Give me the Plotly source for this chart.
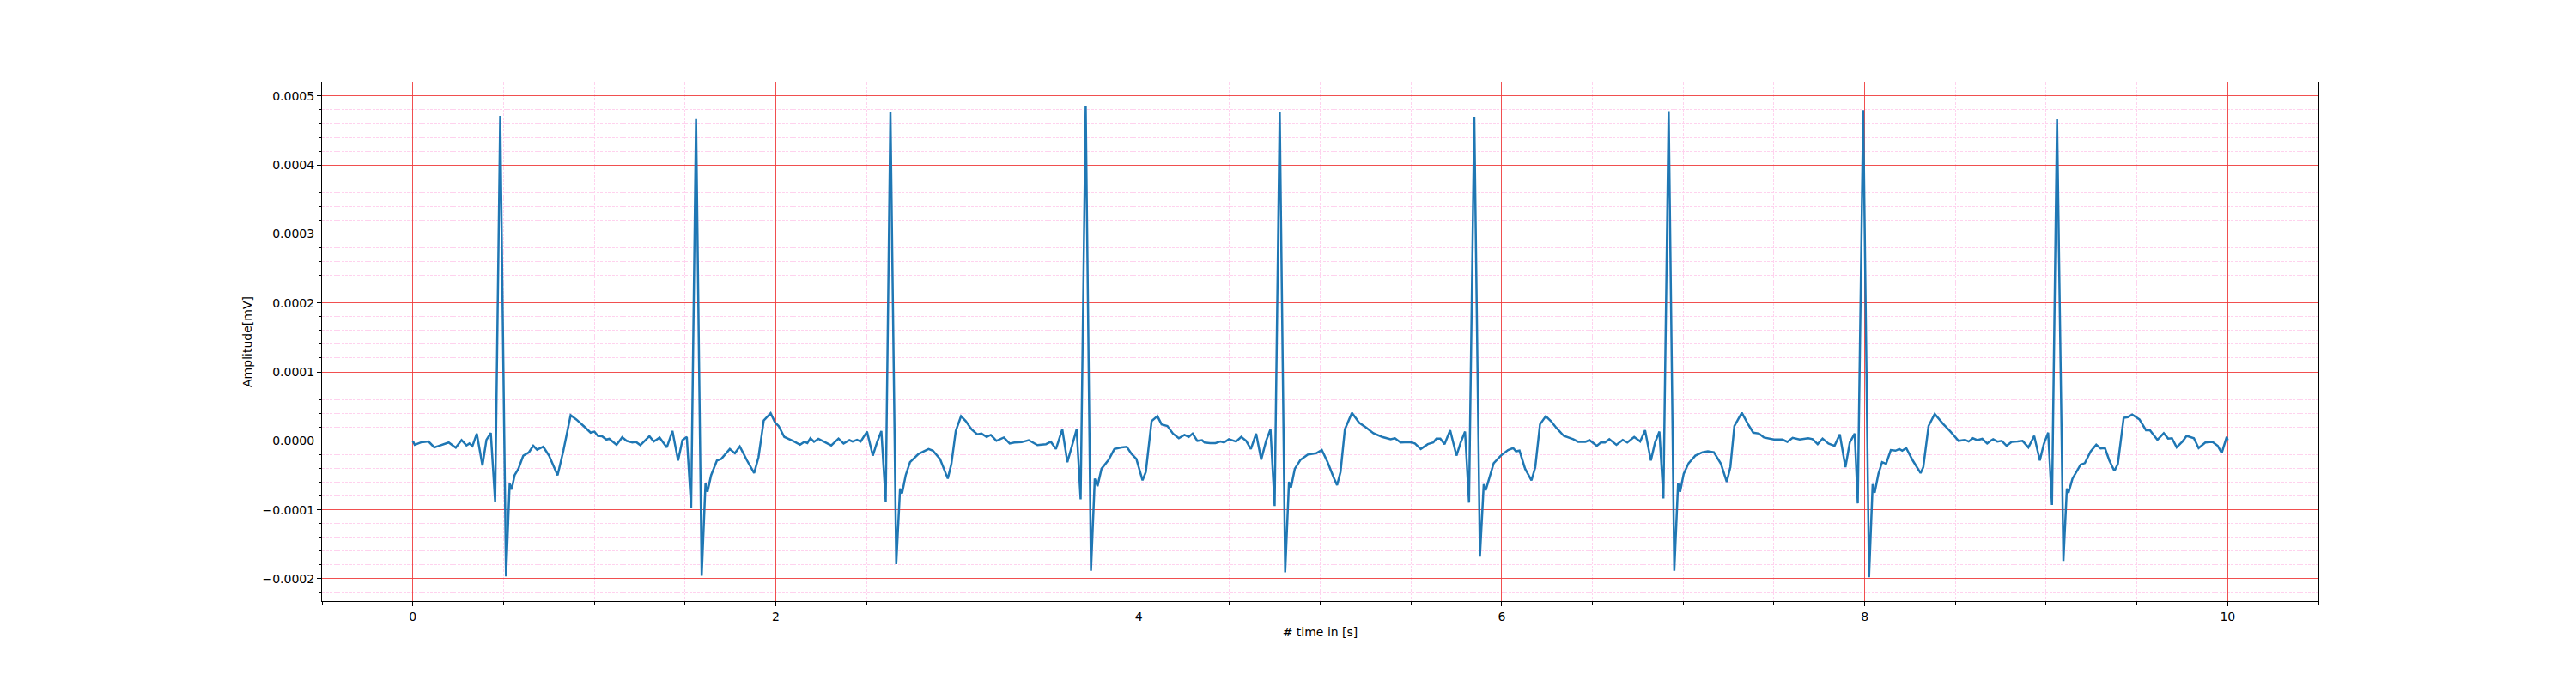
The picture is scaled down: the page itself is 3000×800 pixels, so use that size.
import plotly.graph_objects as go

# ECG trace, time in seconds, amplitude in units of 1e-6
AMP_SCALE = 1e-6

# beats 1-2 (0 .. 2.2 s)
time_a = [0.000, 0.011, 0.048, 0.087, 0.119, 0.150, 0.198, 0.237, 0.269, 0.296, 0.312, 0.329,
          0.353, 0.384, 0.406, 0.430, 0.454, 0.482, 0.514, 0.534, 0.545, 0.561, 0.582, 0.609,
          0.640, 0.664, 0.685, 0.719, 0.751, 0.798, 0.830, 0.870, 0.901, 0.941, 0.980, 1.001,
          1.020, 1.043, 1.067, 1.083, 1.123, 1.154, 1.178, 1.210, 1.229, 1.254, 1.304, 1.328,
          1.360, 1.400, 1.431, 1.462, 1.486, 1.510, 1.534, 1.561, 1.592, 1.613, 1.624, 1.644,
          1.676, 1.700, 1.747, 1.775, 1.802, 1.842, 1.881, 1.905, 1.934, 1.972, 1.997, 2.016,
          2.047, 2.095, 2.134, 2.158, 2.174]
amp_a = [0.0, -5.7, -2.0, -1.0, -9.5, -6.7, -2.4, -10.0, 1.0, -6.7, -3.8, -7.6,
         10.5, -35.8, 1.4, 11.4, -88.3, 471.0, -196.6, -62.0, -70.6, -50.0, -40.6, -21.5,
         -16.7, -7.2, -12.9, -8.6, -21.5, -50.0, -14.3, 37.2, 31.0, 21.5, 11.9, 13.4,
         7.2, 6.7, 1.9, 2.9, -5.7, 5.2, 0.0, -2.4, -1.4, -6.2, 6.7, -1.0,
         4.8, -9.5, 14.3, -28.6, 1.0, 5.7, -96.9, 467.6, -195.6, -62.0, -74.0, -50.0,
         -28.6, -26.2, -11.9, -18.1, -8.1, -28.6, -46.8, -23.9, 29.6, 40.1, 26.2, 21.5,
         5.7, 0.0, -5.7, -1.4, -3.3]

# beats 3-4 (2.2 .. 4.35 s)
time_b = [2.191, 2.211, 2.235, 2.267, 2.306, 2.346, 2.374, 2.406, 2.424, 2.448, 2.468, 2.503,
          2.535, 2.558, 2.582, 2.606, 2.632, 2.664, 2.685, 2.696, 2.716, 2.740, 2.787, 2.842,
          2.866, 2.905, 2.948, 2.968, 2.992, 3.021, 3.047, 3.079, 3.110, 3.134, 3.162, 3.185,
          3.216, 3.257, 3.289, 3.315, 3.355, 3.394, 3.442, 3.489, 3.516, 3.544, 3.579, 3.607,
          3.631, 3.658, 3.680, 3.708, 3.737, 3.758, 3.773, 3.795, 3.834, 3.866, 3.905, 3.934,
          3.961, 3.987, 4.021, 4.039, 4.071, 4.103, 4.126, 4.158, 4.189, 4.221, 4.252, 4.276,
          4.297, 4.323, 4.349]
amp_b = [3.8, -1.4, 2.9, -1.0, -6.7, 3.3, -3.8, 1.0, -1.0, 1.4, -1.0, 13.4,
         -21.5, -2.4, 14.3, -88.3, 477.1, -178.9, -69.2, -76.3, -50.0, -31.0, -19.1, -11.9,
         -14.3, -26.2, -54.9, -33.4, 14.3, 35.8, 28.6, 16.7, 9.5, 10.5, 5.7, 8.6,
         0.0, 4.8, -3.8, -2.4, -1.9, 1.0, -6.2, -4.8, -1.4, -11.9, 16.7, -31.0,
         -7.2, 16.7, -84.9, 485.7, -188.5, -54.9, -65.8, -40.6, -27.7, -11.9, -9.5, -8.6,
         -19.1, -26.2, -57.3, -45.3, 28.6, 35.8, 23.9, 21.5, 10.5, 3.8, 8.6, 5.7,
         10.5, 0.0, 1.0]

# beats 5-6 (4.35 .. 6.55 s)
time_c = [4.363, 4.394, 4.423, 4.450, 4.470, 4.497, 4.536, 4.565, 4.592, 4.618, 4.647, 4.675,
          4.702, 4.726, 4.749, 4.777, 4.807, 4.828, 4.839, 4.860, 4.891, 4.931, 4.978, 5.009,
          5.041, 5.073, 5.093, 5.112, 5.136, 5.175, 5.215, 5.254, 5.293, 5.341, 5.388, 5.412,
          5.443, 5.491, 5.522, 5.554, 5.593, 5.623, 5.640, 5.662, 5.685, 5.716, 5.751, 5.774,
          5.798, 5.820, 5.849, 5.880, 5.901, 5.912, 5.932, 5.956, 5.995, 6.035, 6.063, 6.079,
          6.098, 6.129, 6.164, 6.185, 6.211, 6.243, 6.271, 6.300, 6.342, 6.394, 6.421, 6.461,
          6.484, 6.524]
amp_c = [-2.4, -3.3, -3.3, -1.0, -2.4, 2.4, -1.0, 5.7, 0.0, -11.9, 10.5, -27.2,
         0.0, 16.7, -94.5, 476.2, -190.8, -59.6, -67.7, -40.6, -27.7, -20.0, -18.1, -13.4,
         -31.0, -52.5, -64.4, -45.3, 16.7, 40.6, 26.2, 19.1, 11.0, 5.7, 2.4, 3.8,
         -2.4, -1.9, -3.8, -11.9, -4.8, -2.4, 3.3, 3.3, -4.8, 15.3, -21.5, -2.4,
         13.4, -89.7, 470.0, -167.9, -63.0, -71.6, -52.5, -32.4, -21.5, -13.4, -10.5, -15.3,
         -14.3, -40.6, -57.3, -38.2, 23.9, 35.8, 28.6, 19.1, 7.2, 2.4, -1.4, -1.4,
         1.0, -7.2]

# beats 7-8 (6.55 .. 8.7 s)
time_d = [6.546, 6.569, 6.593, 6.632, 6.667, 6.692, 6.730, 6.763, 6.790, 6.822, 6.845, 6.869,
          6.891, 6.920, 6.951, 6.972, 6.983, 7.003, 7.030, 7.067, 7.106, 7.136, 7.169, 7.208,
          7.240, 7.260, 7.282, 7.323, 7.358, 7.386, 7.418, 7.445, 7.500, 7.547, 7.574, 7.603,
          7.642, 7.689, 7.713, 7.741, 7.768, 7.800, 7.834, 7.863, 7.894, 7.918, 7.945, 7.962,
          7.992, 8.024, 8.044, 8.055, 8.076, 8.096, 8.118, 8.144, 8.170, 8.191, 8.207, 8.229,
          8.265, 8.308, 8.323, 8.352, 8.386, 8.431, 8.470, 8.517, 8.554, 8.573, 8.596, 8.620,
          8.648, 8.675, 8.699]
amp_d = [-2.4, -2.4, 2.4, -5.7, 1.4, -2.4, 5.7, -1.0, 15.3, -28.6, -2.4, 13.4,
         -83.5, 478.0, -188.5, -61.1, -74.0, -47.7, -32.4, -21.5, -16.7, -15.3, -16.7, -33.4,
         -59.6, -38.2, 21.5, 40.6, 23.9, 11.9, 10.5, 4.8, 1.9, 1.9, -1.4, 4.3,
         1.9, 3.8, 2.4, -4.8, 3.3, -3.8, -7.2, 9.5, -38.2, -2.4, 10.5, -90.7,
         479.5, -198.0, -63.0, -75.4, -47.7, -31.0, -33.4, -13.4, -14.3, -11.9, -14.3, -10.5,
         -28.6, -46.8, -38.2, 21.5, 39.1, 24.8, 14.3, 0.0, 1.4, -1.0, 3.8, 1.0,
         2.9, -3.8, 1.0]

# beat 9 (8.7 .. 10 s)
time_e = [8.708, 8.731, 8.755, 8.782, 8.810, 8.842, 8.870, 8.902, 8.934, 8.965, 8.987, 9.011,
          9.032, 9.060, 9.095, 9.114, 9.123, 9.145, 9.190, 9.213, 9.245, 9.276, 9.300, 9.324,
          9.348, 9.376, 9.395, 9.427, 9.450, 9.474, 9.514, 9.550, 9.572, 9.613, 9.648, 9.672,
          9.693, 9.719, 9.751, 9.774, 9.814, 9.840, 9.877, 9.916, 9.945, 9.967, 9.995, 10.000]
amp_e = [2.4, -1.0, 0.0, -7.2, -1.4, -1.0, 0.0, -9.5, 7.2, -28.6, -4.8, 11.9,
         -93.0, 466.6, -174.1, -69.2, -75.4, -54.9, -34.4, -32.4, -15.3, -5.7, -11.0, -10.5,
         -28.6, -43.9, -33.4, 33.4, 34.4, 38.2, 31.0, 15.3, 15.3, 1.4, 11.0, 3.3,
         3.8, -9.5, -1.0, 7.2, 3.8, -10.5, -2.4, -1.4, -7.2, -17.7, 5.7, 1.0]

time_s = time_a + time_b + time_c + time_d + time_e
amplitude = [v * AMP_SCALE for v in amp_a + amp_b + amp_c + amp_d + amp_e]

FONT = "DejaVu Sans"
MAJOR_GRID = "rgba(240,60,60,0.9)"
MINOR_GRID = "#ffd2ee"

fig = go.Figure()
fig.add_trace(go.Scatter(x=time_s, y=amplitude, mode="lines",
                         line=dict(color="#1f77b4", width=2.5), showlegend=False))

axis_common = dict(
    showline=True, linecolor="black", linewidth=1, mirror=True,
    ticks="outside", ticklen=5, tickcolor="black", tickwidth=1,
    showgrid=True, gridcolor=MAJOR_GRID, gridwidth=1,
    zeroline=False,
    tickfont=dict(family=FONT, size=14, color="black"),
)

fig.update_xaxes(
    **axis_common,
    range=[-0.5, 10.5], tick0=0, dtick=2, tickformat="d",
    minor=dict(tick0=0, dtick=0.5, ticks="outside", ticklen=3, tickcolor="black",
               showgrid=True, gridcolor=MINOR_GRID, griddash="3px,1.5px", gridwidth=1),
    title=dict(text="# time in [s]", font=dict(family=FONT, size=14, color="black"), standoff=6),
)
fig.update_yaxes(
    **axis_common,
    range=[-0.0002325, 0.0005197], tick0=0, dtick=0.0001, tickformat=".4f",
    minor=dict(tick0=0, dtick=0.00002, ticks="outside", ticklen=3, tickcolor="black",
               showgrid=True, gridcolor=MINOR_GRID, griddash="3px,1.5px", gridwidth=1),
    title=dict(text="Amplitude[mV]", font=dict(family=FONT, size=14, color="black"), standoff=8),
)

# the page body adds an 8px offset, so the margins are shifted to keep the frame in place
fig.update_layout(
    width=3000, height=800,
    margin=dict(l=367, r=308, t=88, b=108, autoexpand=False),
    paper_bgcolor="white", plot_bgcolor="white",
    font=dict(family=FONT, size=14, color="black"),
)

fig.write_html("out.html")
